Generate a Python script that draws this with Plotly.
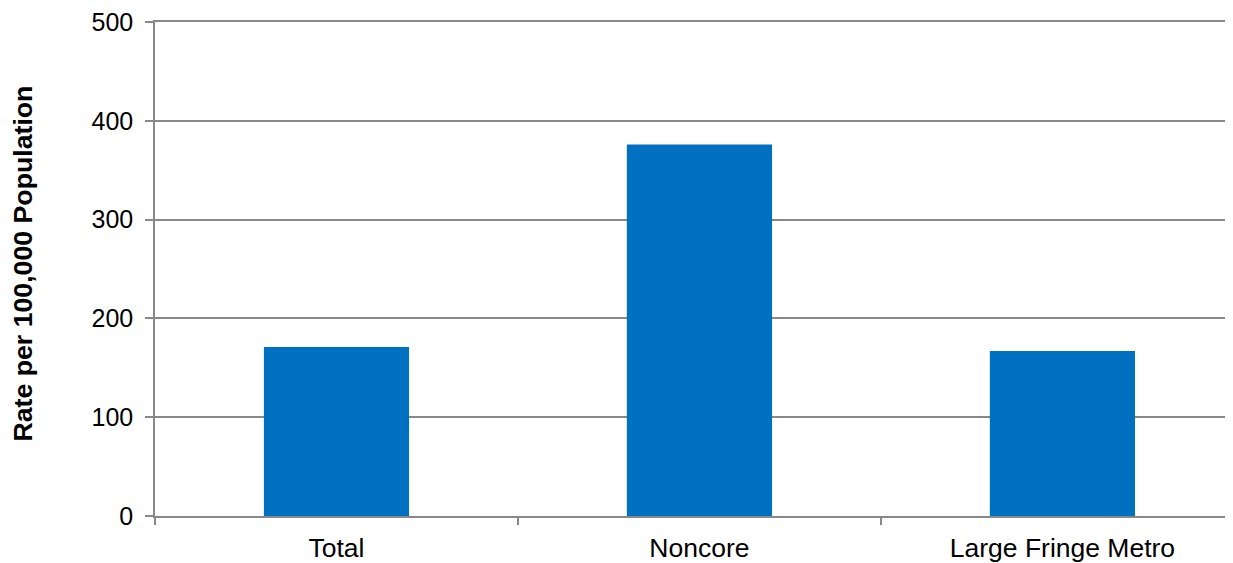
import plotly.graph_objects as go

categories = ["Total", "Noncore", "Large Fringe Metro"]
rates = [171, 376, 167]
y_ticks = [0, 100, 200, 300, 400, 500]
y_title = "Rate per 100,000 Population"

BAR = "#0070C0"
GRID = "#888888"
FONT = "Liberation Sans, Arial, sans-serif"

# page body adds an 8px margin; compensate so the plot area matches the reference
fig = go.Figure(
    go.Bar(x=categories, y=rates, marker=dict(color=BAR, line=dict(width=0)), width=0.4)
)

fig.update_layout(
    width=1225, height=555,
    margin=dict(l=147, r=0, t=10, b=46),
    paper_bgcolor="white", plot_bgcolor="white",
    font=dict(family=FONT, size=26, color="black"),
    showlegend=False,
)

fig.update_xaxes(
    range=[-0.5, 2.47],
    showgrid=False,
    showline=True, linecolor=GRID, linewidth=1.5, mirror=True,
    ticks="outside", tickson="boundaries", ticklen=7, tickcolor=GRID, tickwidth=1.5,
    tickfont=dict(family=FONT, size=26.5, color="black"),
    ticklabelstandoff=7,
    zeroline=False,
)

fig.update_yaxes(
    range=[0, 500],
    tickvals=y_ticks,
    showgrid=True, gridcolor=GRID, gridwidth=1.5,
    showline=True, linecolor=GRID, linewidth=1.5,
    ticks="outside", ticklen=8, tickcolor=GRID, tickwidth=1.5,
    tickfont=dict(family=FONT, size=25, color="black"),
    ticklabelstandoff=7,
    ticklabeloverflow="allow",
    zeroline=False,
)

fig.add_annotation(
    text="<b>" + y_title + "</b>",
    xref="paper", yref="paper",
    x=(23 - 155) / 1078, y=(517 - 262) / 499,
    xanchor="center", yanchor="middle",
    textangle=-90, showarrow=False,
    font=dict(family=FONT, size=26.7, color="black"),
)

fig.write_html("out.html")
